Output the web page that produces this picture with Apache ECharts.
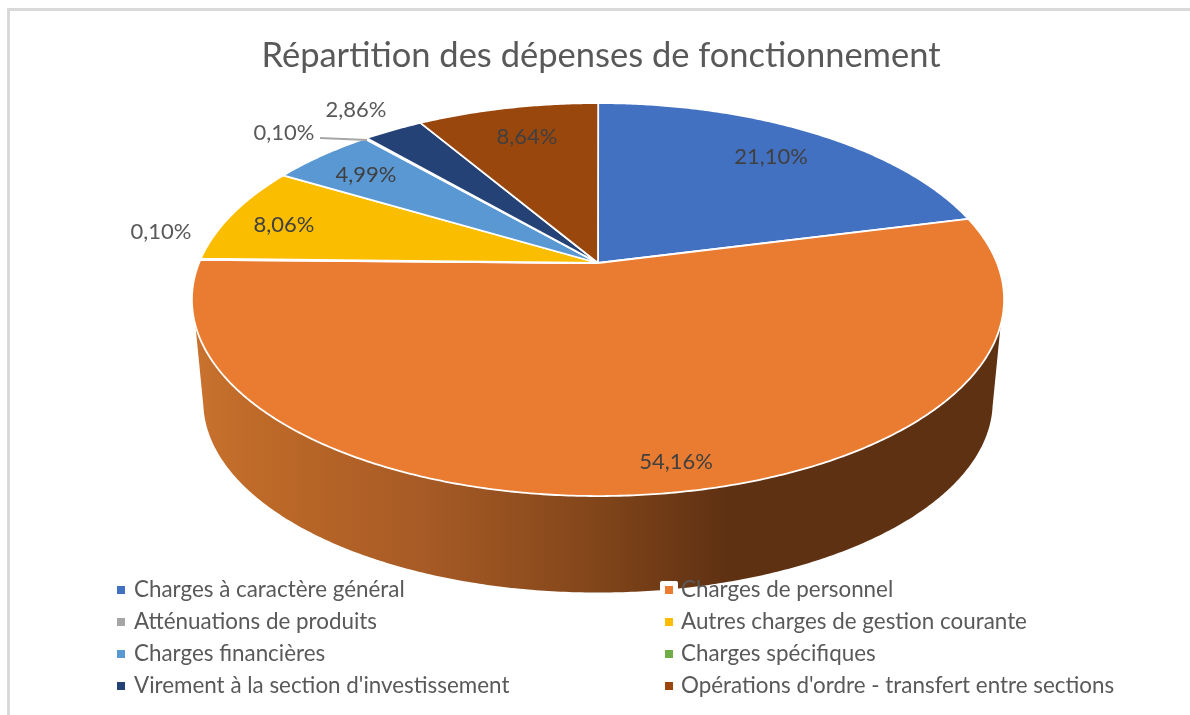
<!DOCTYPE html>
<html>
<head>
<meta charset="utf-8">
<style>
html, body { margin: 0; padding: 0; background: #fff; }
#main { width: 1190px; height: 715px; }
</style>
<script src="https://cdn.jsdelivr.net/npm/echarts@6/dist/echarts.min.js"></script>
</head>
<body>
<div id="main"></div>
<script>
var chartTitle = "Répartition des dépenses de fonctionnement";
// clockwise from 12 o'clock
var categories = [
  "Charges à caractère général",
  "Charges de personnel",
  "Atténuations de produits",
  "Autres charges de gestion courante",
  "Charges financières",
  "Charges spécifiques",
  "Virement à la section d'investissement",
  "Opérations d'ordre - transfert entre sections"
];
var percents = [21.10, 54.16, 0.10, 8.06, 4.99, 0.10, 2.86, 8.64];
var colors = ["#4371C1", "#EA7C31", "#A5A5A5", "#FBBD00", "#5A98D4", "#70AD47", "#254276", "#9A470D"];

// hand placed in the original, so they stay hand placed here
var labelPos = [[771, 157], [676, 462], [161, 232], [284, 225], [366, 175], [284, 133], [356, 110], [527, 137]];
var labelColor = ["#404040", "#404040", "#595959", "#404040", "#404040", "#595959", "#595959", "#404040"];

var FONT = "Lato";
// tilted disc: perspective makes the apex sit above the middle of the ellipse
var cx = 598, cy = 263, A = 399, B = 189.7, K = 0.186;
// bottom disc
var botScale = 0.972, botY = 366;

function project(deg, r, scale, y0) {
  var a = deg * Math.PI / 180;
  var u = Math.sin(a) * r, v = Math.cos(a) * r;
  var d = 1 + K * v;
  return [cx + scale * A * u / d, y0 - scale * B * v / d];
}

function arc(from, to, scale, y0) {
  var pts = [];
  var n = Math.max(2, Math.ceil(Math.abs(to - from) / 0.5));
  for (var i = 0; i <= n; i++) {
    pts.push(project(from + (to - from) * i / n, 1, scale, y0));
  }
  return pts;
}

var wallStops = [
  { offset: 0, color: "#C97230" },
  { offset: 0.07, color: "#BF6A28" },
  { offset: 0.29, color: "#A65A25" },
  { offset: 0.49, color: "#83461A" },
  { offset: 0.66, color: "#5F3113" },
  { offset: 1, color: "#5F3113" }
];

function renderSlice(params, api) {
  var start = api.value(0) * 3.6, end = api.value(1) * 3.6;
  var color = api.value(2);
  var children = [];
  // only the front of the rim shows
  var wallFrom = Math.max(start, 108), wallTo = Math.min(end, 252);
  if (wallTo > wallFrom) {
    var bottom = arc(wallTo + 6, wallFrom - 6, botScale, botY);
    var pts = [project(wallFrom, 1, 1, cy), project(wallTo, 1, 1, cy)].concat(bottom);
    children.push({
      type: "polygon",
      shape: { points: pts },
      style: { fill: new echarts.graphic.LinearGradient(0, 0, 1, 0, wallStops) }
    });
  }
  var top = [[cx, cy]].concat(arc(start, end, 1, cy));
  children.push({
    type: "polygon",
    shape: { points: top },
    style: { fill: color, stroke: "#fff", lineWidth: 1.8, lineJoin: "round" }
  });
  return { type: "group", children: children };
}

var series = [];
var running = 0;
categories.forEach(function (name, i) {
  series.push({
    type: "custom",
    name: name,
    coordinateSystem: "none",
    silent: true,
    animation: false,
    z: 2,
    itemStyle: { color: colors[i] },
    data: [[running, running + percents[i], colors[i]]],
    renderItem: renderSlice
  });
  running += percents[i];
});

// percent labels, leader line on top of the slices
series.push({
  type: "custom",
  coordinateSystem: "none",
  silent: true,
  animation: false,
  z: 3,
  data: percents.map(function (p, i) { return [p, i]; }),
  renderItem: function (params, api) {
    var i = api.value(1);
    var text = api.value(0).toFixed(2).replace(".", ",") + "%";
    var kids = [{
      type: "text",
      style: {
        x: labelPos[i][0], y: labelPos[i][1], text: text,
        fill: labelColor[i], font: "22px " + FONT,
        align: "center", verticalAlign: "middle"
      }
    }];
    if (i === 5) {
      kids.push({
        type: "line",
        shape: { x1: 320, y1: 138, x2: 367, y2: 140 },
        style: { stroke: "#A6A6A6", lineWidth: 2 }
      });
    }
    return { type: "group", children: kids };
  }
});

function legendFor(list, left, textPad) {
  return {
    orient: "vertical",
    left: left,
    top: 578,
    data: list,
    itemWidth: 8,
    itemHeight: 8,
    itemGap: 8,
    icon: "rect",
    selectedMode: false,
    padding: 0,
    textStyle: { color: "#595959", fontSize: 22.4, fontFamily: FONT, lineHeight: 24, padding: [0, 0, 0, textPad] }
  };
}

var option = {
  backgroundColor: "#fff",
  animation: false,
  title: {
    text: chartTitle,
    left: 596,
    top: 33,
    textAlign: "center",
    textStyle: { color: "#595959", fontSize: 34.5, fontWeight: "normal", fontFamily: FONT }
  },
  legend: [
    legendFor([categories[0], categories[2], categories[4], categories[6]], 117, 4),
    legendFor([categories[1], categories[3], categories[5], categories[7]], 665, 3)
  ],
  graphic: [
    // chart frame, open on the right and bottom
    { type: "polyline", z: 1, shape: { points: [[8.5, 715], [8.5, 9.5], [1190, 9.5]] }, style: { fill: null, stroke: "#D9D9D9", lineWidth: 3 } },
    // white selection handle over the rim, behind the legend marker
    { type: "rect", z: 3, shape: { x: 660, y: 581, width: 18, height: 17, r: 2 }, style: { fill: "#fff" } }
  ],
  series: series
};

var chart = echarts.init(document.getElementById("main"));
chart.setOption(option);
</script>
</body>
</html>
